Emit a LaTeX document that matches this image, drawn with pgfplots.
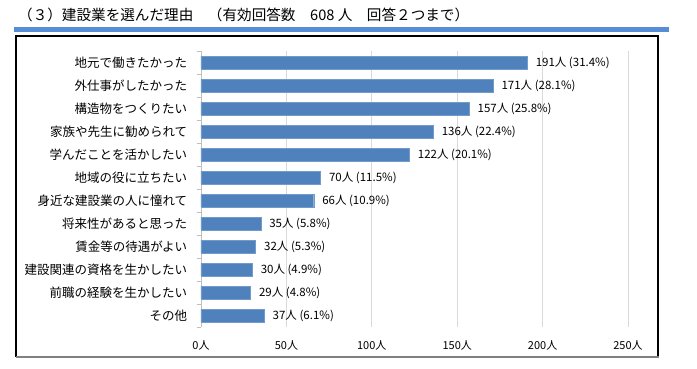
\documentclass[border=0pt]{standalone}
\usepackage{pgfplots}
\pgfplotsset{compat=1.18}
\usepackage{fontspec}
\setmainfont{Noto Sans CJK JP}
\definecolor{barblue}{RGB}{79,129,189}
\definecolor{bandblue}{RGB}{85,142,213}
\definecolor{gridgray}{RGB}{217,217,217}
\definecolor{axisgray}{RGB}{191,191,191}
\begin{document}
\begin{tikzpicture}[x=1pt,y=1pt]
\useasboundingbox (0,0) rectangle (697,-368);
\fill[bandblue] (14,-27) rectangle (669,-31.5);
\draw[black, line width=1.2pt] (16,-357) -- (16,-36) -- (658,-36) -- (658,-357);
\draw[gray, line width=2pt] (16,-357) -- (658.6,-357);
\node[anchor=west, inner sep=0pt, font=\fontsize{14.6}{16}\selectfont] at (18,-15) {（３）建設業を選んだ理由　（有効回答数　608 人　回答２つまで）};
\begin{axis}[
  at={(201pt,-327pt)}, anchor=south west,
  scale only axis, width=427pt, height=276pt,
  xbar, bar width=13pt,
  xmin=0, xmax=250, ymin=-0.5, ymax=11.5,
  y dir=reverse,
  axis lines*=left,
  x axis line style={draw=none},
  y axis line style={draw=axisgray},
  xtick={0,50,100,150,200,250},
  xticklabels={0人,50人,100人,150人,200人,250人},
  xmajorgrids, grid style={gridgray, line width=0.8pt},
  major x tick style={draw=none},
  ytick={0,...,11},
  yticklabels={地元で働きたかった,外仕事がしたかった,構造物をつくりたい,家族や先生に勧められて,学んだことを活かしたい,地域の役に立ちたい,身近な建設業の人に憧れて,将来性があると思った,賃金等の待遇がよい,建設関連の資格を生かしたい,前職の経験を生かしたい,その他},
  major y tick style={draw=none},
  minor ytick={-0.5,0.5,...,11.5},
  minor tick length=4pt,
  minor y tick style={draw=axisgray},
  tick align=outside,
  yticklabel style={font=\fontsize{12.5}{14}\selectfont, xshift=-6pt},
  xticklabel style={font=\fontsize{11}{13}\selectfont, yshift=-6pt},
  nodes near coords,
  point meta=explicit symbolic,
  every node near coord/.append style={font=\fontsize{11.5}{13}\selectfont, anchor=west, xshift=5pt},
]
\addplot[fill=barblue, draw=barblue!80!white] coordinates {
(191,0) [191人 (31.4\%)]
(171,1) [171人 (28.1\%)]
(157,2) [157人 (25.8\%)]
(136,3) [136人 (22.4\%)]
(122,4) [122人 (20.1\%)]
(70,5) [70人 (11.5\%)]
(66,6) [66人 (10.9\%)]
(35,7) [35人 (5.8\%)]
(32,8) [32人 (5.3\%)]
(30,9) [30人 (4.9\%)]
(29,10) [29人 (4.8\%)]
(37,11) [37人 (6.1\%)]
};
\end{axis}
\end{tikzpicture}
\end{document}
